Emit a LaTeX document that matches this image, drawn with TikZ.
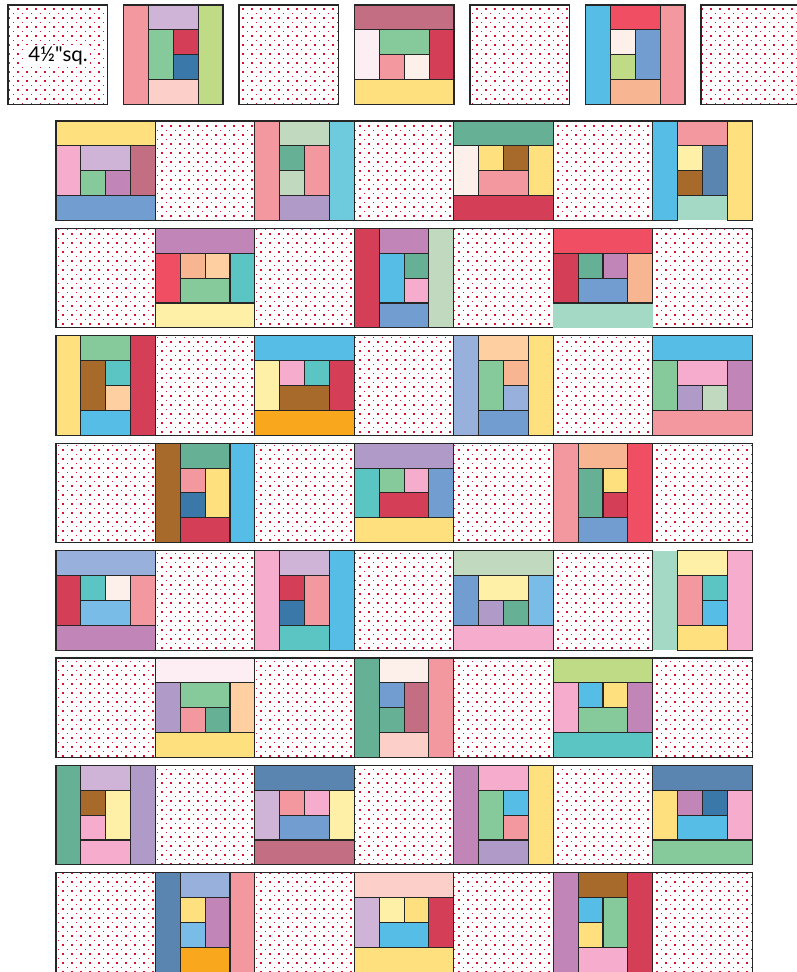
\documentclass[tikz,border=0pt]{standalone}
\usepackage{fontspec}
\usepackage{xcolor}
\usepackage{tikz}
\usetikzlibrary{patterns.meta}
\newfontfamily\labelfont[Ligatures=TeXOff]{Lato}

\definecolor{rose}{HTML}{F4989F}
\definecolor{lilac}{HTML}{D0B4D8}
\definecolor{lime}{HTML}{C0DB86}
\definecolor{leaf}{HTML}{86C99A}
\definecolor{cherry}{HTML}{D43F57}
\definecolor{denim}{HTML}{3A78A9}
\definecolor{blush}{HTML}{FCCFC8}
\definecolor{mauve}{HTML}{C46E84}
\definecolor{petal}{HTML}{FDEEF3}
\definecolor{butter}{HTML}{FEE07E}
\definecolor{sky}{HTML}{56BEE6}
\definecolor{coral}{HTML}{F04F63}
\definecolor{shell}{HTML}{FDF0EB}
\definecolor{cornflower}{HTML}{729DD1}
\definecolor{peach}{HTML}{F8B592}
\definecolor{bubble}{HTML}{F6ADCD}
\definecolor{orchid}{HTML}{C185B8}
\definecolor{jade}{HTML}{66B196}
\definecolor{sage}{HTML}{C0D9BF}
\definecolor{wisteria}{HTML}{B09BC8}
\definecolor{aqua}{HTML}{6ECADD}
\definecolor{cocoa}{HTML}{A86A2A}
\definecolor{lemon}{HTML}{FEF1A7}
\definecolor{slate}{HTML}{5A85B0}
\definecolor{mint}{HTML}{A4D9C5}
\definecolor{turq}{HTML}{5BC5C4}
\definecolor{apricot}{HTML}{FECFA1}
\definecolor{periwinkle}{HTML}{97B1DC}
\definecolor{amber}{HTML}{F9A71D}
\definecolor{ice}{HTML}{79BCE8}
\definecolor{dotred}{HTML}{D8102E}

\tikzdeclarepattern{
  name=quiltdots,
  type=uncolored,
  bounding box={(-1pt,-1pt) and (5.5pt,5.5pt)},
  tile size={(9pt,9pt)},
  code={\fill (-0.95pt,-0.95pt) rectangle (0.95pt,0.95pt);
        \fill (3.55pt,3.55pt) rectangle (5.45pt,5.45pt);}
}

\def\qu{24.8625}
\newcommand\logblock[3]{%
  \begin{scope}[shift={(#1,#2)}]
    \foreach \ax/\ay/\bx/\by/\pc in {#3}
      \filldraw[patch, fill=\pc] (\ax*\qu,\ay*\qu) rectangle (\bx*\qu,\by*\qu);
  \end{scope}}

\begin{document}
\begin{tikzpicture}[x=1pt, y=-1pt,
    patch/.style={draw=black!85, line width=1.1pt},
    dotsq/.style={preaction={fill=white}, pattern=quiltdots, pattern color=dotred, draw=black!85, line width=1.1pt},
    bare/.style={fill=mint}
]
    \useasboundingbox (0,0) rectangle (796,972);

    % loose squares on top
    \foreach \k in {0,2,4,6}
        \filldraw[dotsq] (8+\k*115.5,5) rectangle ++(99.45,99.45);
    \node[fill=white, inner sep=2pt, font=\labelfont\fontsize{20.5}{20.5}\selectfont] (sqsize) at (58,56) {4½"sq.};

    \logblock{123.5}{5}{0/0/1/4/rose, 1/0/3/1/lilac, 3/0/4/4/lime, 1/1/2/3/leaf, 2/1/3/2/cherry, 2/2/3/3/denim, 1/3/3/4/blush}
    \logblock{354.5}{5}{0/0/4/1/mauve, 0/1/1/3/petal, 1/1/3/2/leaf, 3/1/4/3/cherry, 1/2/2/3/rose, 2/2/3/3/shell, 0/3/4/4/butter}
    \logblock{585.5}{5}{0/0/1/4/sky, 1/0/3/1/coral, 3/0/4/4/rose, 1/1/2/2/shell, 2/1/3/3/cornflower, 1/2/2/3/lime, 1/3/3/4/peach}

    % alternate squares in the rows
    \foreach \r in {0,2,4,6}
        \foreach \k in {1,3,5}
            \filldraw[dotsq] (56+\k*99.45,121+\r*107.4) rectangle ++(99.45,99.45);
    \foreach \r in {1,3,5,7}
        \foreach \k in {0,2,4,6}
            \filldraw[dotsq] (56+\k*99.45,121+\r*107.4) rectangle ++(99.45,99.45);

    % row 1
    \logblock{56}{121}{0/0/4/1/butter, 0/1/1/3/bubble, 1/1/3/2/lilac, 3/1/4/3/mauve, 1/2/2/3/leaf, 2/2/3/3/orchid, 0/3/4/4/cornflower}
    \logblock{56+2*99.45}{121}{0/0/1/4/rose, 1/0/3/1/sage, 3/0/4/4/aqua, 1/1/2/2/jade, 2/1/3/3/rose, 1/2/2/3/sage, 1/3/3/4/wisteria}
    \logblock{56+4*99.45}{121}{0/0/4/1/jade, 0/1/1/3/shell, 1/1/2/2/butter, 2/1/3/2/cocoa, 3/1/4/3/butter, 1/2/3/3/rose, 0/3/4/4/cherry}
    \fill[bare, shift={(56+6*99.45,121)}] (1*\qu,3*\qu) rectangle (3*\qu,4*\qu);
    \logblock{56+6*99.45}{121}{0/0/1/4/sky, 1/0/3/1/rose, 3/0/4/4/butter, 1/1/2/2/lemon, 2/1/3/3/slate, 1/2/2/3/cocoa}

    % row 2
    \logblock{56+1*99.45}{121+107.4}{0/0/4/1/orchid, 0/1/1/3/coral, 1/1/2/2/peach, 2/1/3/2/apricot, 3/1/4/3/turq, 1/2/3/3/leaf, 0/3/4/4/lemon}
    \logblock{56+3*99.45}{121+107.4}{0/0/1/4/cherry, 1/0/3/1/orchid, 3/0/4/4/sage, 1/1/2/3/sky, 2/1/3/2/jade, 2/2/3/3/bubble, 1/3/3/4/cornflower}
    \fill[bare, shift={(56+5*99.45,121+107.4)}] (0,3*\qu) rectangle (4*\qu,4*\qu);
    \logblock{56+5*99.45}{121+107.4}{0/0/4/1/coral, 0/1/1/3/cherry, 1/1/2/2/jade, 2/1/3/2/orchid, 3/1/4/3/peach, 1/2/3/3/cornflower}

    % row 3
    \logblock{56}{121+2*107.4}{0/0/1/4/butter, 1/0/3/1/leaf, 3/0/4/4/cherry, 1/1/2/3/cocoa, 2/1/3/2/turq, 2/2/3/3/apricot, 1/3/3/4/sky}
    \logblock{56+2*99.45}{121+2*107.4}{0/0/4/1/sky, 0/1/1/3/lemon, 1/1/2/2/bubble, 2/1/3/2/turq, 3/1/4/3/cherry, 1/2/3/3/cocoa, 0/3/4/4/amber}
    \logblock{56+4*99.45}{121+2*107.4}{0/0/1/4/periwinkle, 1/0/3/1/apricot, 3/0/4/4/butter, 1/1/2/3/leaf, 2/1/3/2/peach, 2/2/3/3/periwinkle, 1/3/3/4/cornflower}
    \logblock{56+6*99.45}{121+2*107.4}{0/0/4/1/sky, 0/1/1/3/leaf, 1/1/3/2/bubble, 3/1/4/3/orchid, 1/2/2/3/wisteria, 2/2/3/3/sage, 0/3/4/4/rose}

    % row 4
    \logblock{56+1*99.45}{121+3*107.4}{0/0/1/4/cocoa, 1/0/3/1/jade, 3/0/4/4/sky, 1/1/2/2/rose, 2/1/3/3/butter, 1/2/2/3/denim, 1/3/3/4/cherry}
    \logblock{56+3*99.45}{121+3*107.4}{0/0/4/1/wisteria, 0/1/1/3/turq, 1/1/2/2/leaf, 2/1/3/2/bubble, 3/1/4/3/cornflower, 1/2/3/3/cherry, 0/3/4/4/butter}
    \logblock{56+5*99.45}{121+3*107.4}{0/0/1/4/rose, 1/0/3/1/peach, 3/0/4/4/coral, 1/1/2/3/jade, 2/1/3/2/butter, 2/2/3/3/cherry, 1/3/3/4/cornflower}

    % row 5
    \logblock{56}{121+4*107.4}{0/0/4/1/periwinkle, 0/1/1/3/cherry, 1/1/2/2/turq, 2/1/3/2/shell, 3/1/4/3/rose, 1/2/3/3/ice, 0/3/4/4/orchid}
    \logblock{56+2*99.45}{121+4*107.4}{0/0/1/4/bubble, 1/0/3/1/lilac, 3/0/4/4/sky, 1/1/2/2/cherry, 2/1/3/3/rose, 1/2/2/3/denim, 1/3/3/4/turq}
    \logblock{56+4*99.45}{121+4*107.4}{0/0/4/1/sage, 0/1/1/3/cornflower, 1/1/3/2/lemon, 3/1/4/3/ice, 1/2/2/3/wisteria, 2/2/3/3/jade, 0/3/4/4/bubble}
    \fill[bare, shift={(56+6*99.45,121+4*107.4)}] (0,0) rectangle (1*\qu,4*\qu);
    \logblock{56+6*99.45}{121+4*107.4}{1/0/3/1/lemon, 3/0/4/4/bubble, 1/1/2/3/rose, 2/1/3/2/turq, 2/2/3/3/sky, 1/3/3/4/butter}

    % row 6
    \logblock{56+1*99.45}{121+5*107.4}{0/0/4/1/petal, 0/1/1/3/wisteria, 1/1/3/2/leaf, 3/1/4/3/apricot, 1/2/2/3/rose, 2/2/3/3/jade, 0/3/4/4/butter}
    \logblock{56+3*99.45}{121+5*107.4}{0/0/1/4/jade, 1/0/3/1/shell, 3/0/4/4/rose, 1/1/2/2/cornflower, 2/1/3/3/mauve, 1/2/2/3/jade, 1/3/3/4/blush}
    \logblock{56+5*99.45}{121+5*107.4}{0/0/4/1/lime, 0/1/1/3/bubble, 1/1/2/2/sky, 2/1/3/2/butter, 3/1/4/3/orchid, 1/2/3/3/leaf, 0/3/4/4/turq}

    % row 7
    \logblock{56}{121+6*107.4}{0/0/1/4/jade, 1/0/3/1/lilac, 3/0/4/4/wisteria, 1/1/2/2/cocoa, 2/1/3/3/lemon, 1/2/2/3/bubble, 1/3/3/4/bubble}
    \logblock{56+2*99.45}{121+6*107.4}{0/0/4/1/slate, 0/1/1/3/lilac, 1/1/2/2/rose, 2/1/3/2/bubble, 3/1/4/3/lemon, 1/2/3/3/cornflower, 0/3/4/4/mauve}
    \logblock{56+4*99.45}{121+6*107.4}{0/0/1/4/orchid, 1/0/3/1/bubble, 3/0/4/4/butter, 1/1/2/3/leaf, 2/1/3/2/sky, 2/2/3/3/rose, 1/3/3/4/wisteria}
    \logblock{56+6*99.45}{121+6*107.4}{0/0/4/1/slate, 0/1/1/3/butter, 1/1/2/2/orchid, 2/1/3/2/denim, 3/1/4/3/bubble, 1/2/3/3/sky, 0/3/4/4/leaf}

    % row 8
    \logblock{56+1*99.45}{121+7*107.4}{0/0/1/4/slate, 1/0/3/1/periwinkle, 3/0/4/4/rose, 1/1/2/2/butter, 2/1/3/3/orchid, 1/2/2/3/ice, 1/3/3/4/amber}
    \logblock{56+3*99.45}{121+7*107.4}{0/0/4/1/blush, 0/1/1/3/lilac, 1/1/2/2/lemon, 2/1/3/2/butter, 3/1/4/3/cherry, 1/2/3/3/sky, 0/3/4/4/butter}
    \logblock{56+5*99.45}{121+7*107.4}{0/0/1/4/orchid, 1/0/3/1/cocoa, 3/0/4/4/cherry, 1/1/2/2/sky, 2/1/3/3/leaf, 1/2/2/3/butter, 1/3/3/4/bubble}
\end{tikzpicture}
\end{document}
